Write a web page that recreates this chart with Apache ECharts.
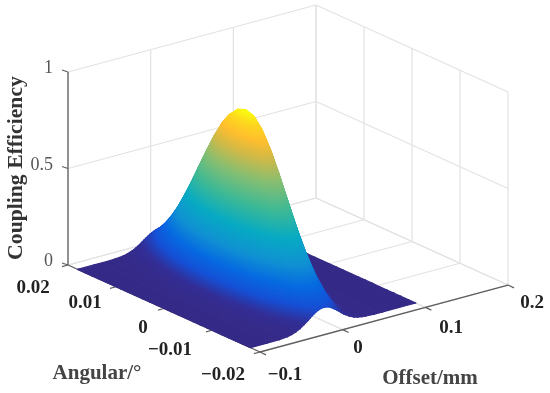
<!DOCTYPE html>
<html><head><meta charset="utf-8"><style>html,body{margin:0;background:#fff}#c{width:550px;height:393px;filter:blur(0.45px)}</style>
<script src="https://cdn.jsdelivr.net/npm/echarts@6/dist/echarts.min.js"></script></head><body><div id="c"></div>
<script>
const offsets=[-0.1,-0.08,-0.065,-0.055,-0.05,-0.045,-0.04,-0.035,-0.03,-0.0275,-0.025,-0.0225,-0.02,-0.0175,-0.015,-0.0125,-0.01,-0.0075,-0.005,-0.0025,0,0.0025,0.005,0.0075,0.01,0.0125,0.015,0.02,0.025,0.03,0.035,0.04,0.05,0.06,0.08,0.1];
const angulars=[-0.018,-0.0165,-0.015,-0.0135,-0.012,-0.0105,-0.009,-0.0075,-0.006,-0.0045,-0.003,-0.0015,0,0.0015,0.003,0.0045,0.006,0.0075,0.009,0.0105,0.012,0.0135,0.015,0.0165,0.018];
// coupling efficiency in thousandths, one row per angular value, one column per offset value
const efficiencyThousandths=[
[0,0,1,5,10,18,29,44,61,70,79,87,94,100,104,106,106,104,101,95,88,80,72,63,54,45,38,24,14,8,4,2,0,0,0,0],
[0,0,2,8,15,26,43,64,89,103,115,127,138,146,152,156,156,153,148,140,130,118,105,92,79,67,55,35,21,12,6,3,1,0,0,0],
[0,0,2,11,21,37,60,91,127,145,163,180,195,207,215,220,221,217,209,198,183,167,149,130,112,94,78,50,30,16,8,4,1,0,0,0],
[0,0,3,15,29,51,82,124,172,198,222,245,266,282,294,300,300,295,285,269,250,227,203,177,152,128,106,68,41,22,11,5,1,0,0,0],
[0,0,4,20,38,66,108,162,226,260,292,322,349,370,386,394,395,388,374,353,328,298,266,233,200,169,139,90,53,30,15,7,1,0,0,0],
[0,0,5,25,48,84,137,206,286,329,370,408,441,469,488,498,499,491,473,447,415,377,337,295,253,213,176,113,68,37,19,9,2,0,0,0],
[0,0,6,31,58,102,167,251,349,401,451,497,538,571,595,608,609,598,577,546,506,460,411,360,309,260,215,138,83,46,23,11,2,0,0,0],
[0,0,8,36,69,120,196,295,411,471,530,584,633,672,699,714,716,703,678,641,595,541,483,423,363,306,253,163,97,54,27,13,2,0,0,0],
[0,0,9,41,78,136,222,334,465,533,600,662,716,761,792,809,811,797,768,726,674,613,547,479,411,346,286,184,110,61,31,15,3,0,0,0],
[0,0,10,45,85,149,242,364,508,582,655,722,782,830,864,883,885,869,838,793,735,669,597,522,449,378,312,201,120,66,34,16,3,0,0,0],
[0,0,10,47,89,157,255,383,534,612,689,760,822,873,909,929,931,915,882,834,773,703,628,550,472,397,328,212,126,70,36,17,3,0,0,0],
[0,0,10,48,90,159,258,388,541,621,698,770,834,885,922,942,943,927,894,845,784,713,636,557,478,403,333,214,128,71,36,17,3,0,0,0],
[0,0,10,47,89,156,254,382,532,610,687,757,820,870,906,926,928,912,879,831,771,701,626,548,470,396,327,211,126,69,35,17,3,0,0,0],
[0,0,10,44,84,148,242,364,508,583,656,724,784,832,867,886,888,873,842,797,740,673,601,526,452,381,315,203,121,67,34,16,3,0,0,0],
[0,0,9,40,77,136,221,335,468,538,606,670,727,773,807,825,829,816,788,747,694,633,566,496,427,360,298,193,115,64,33,16,3,0,0,0],
[0,0,8,35,67,119,195,297,417,480,543,601,654,697,729,748,753,743,719,683,637,582,521,458,395,334,278,180,108,60,31,15,3,0,0,0],
[0,0,7,29,56,100,166,254,359,415,470,523,570,610,640,659,666,659,641,611,571,523,471,415,359,305,254,166,101,56,29,14,3,0,0,0],
[0,0,5,23,45,81,135,209,298,346,394,440,482,518,546,565,573,570,556,532,500,460,416,368,320,273,228,151,92,52,27,13,2,0,0,0],
[0,0,4,18,35,63,106,166,239,279,319,359,395,427,452,470,479,479,470,453,427,396,359,320,280,240,201,134,83,47,25,12,2,0,0,0],
[0,0,3,13,25,47,80,126,185,217,250,282,313,340,363,380,392,392,387,375,356,332,303,272,239,206,174,118,74,43,23,11,2,0,0,0],
[0,0,2,9,18,33,58,93,138,163,189,215,240,263,282,297,307,312,310,302,289,272,250,226,200,174,148,102,64,38,21,10,2,0,0,0],
[0,0,1,6,12,23,40,65,98,117,137,158,178,196,212,226,235,240,241,237,229,216,201,183,163,143,123,86,55,33,18,9,2,0,0,0],
[0,0,1,4,8,15,27,44,68,82,96,112,127,141,154,166,174,180,182,181,176,168,157,145,130,115,100,71,47,28,16,8,2,0,0,0],
[0,0,0,2,5,9,17,29,45,54,65,76,87,98,108,117,125,130,133,133,131,127,120,111,101,91,79,57,39,24,14,7,2,0,0,0],
[0,0,0,1,3,5,10,18,28,35,42,50,58,66,73,80,86,91,94,95,95,93,89,83,77,69,61,45,31,20,12,6,1,0,0,0]
];
const eff=efficiencyThousandths.map(r=>r.map(v=>v/1000));
const offsetTicks=[-0.1,0,0.1,0.2],angularTicks=[0.02,0.01,0,-0.01,-0.02],effTicks=[0,0.5,1];
const P=(o,a,z)=>[260+(o+0.1)*826.7-(a+0.02)*4800,352-(o+0.1)*223.3-(a+0.02)*2175-z*193];
const cmap=[[0,[53,42,135]],[0.05,[50,45,150]],[0.12,[20,80,215]],[0.2,[5,105,225]],[0.3,[16,145,210]],[0.42,[6,170,195]],[0.55,[60,185,150]],[0.68,[130,190,115]],[0.8,[210,185,70]],[0.88,[255,190,45]],[0.95,[253,215,30]],[1,[249,251,14]]];
function col(t){t=Math.max(0,Math.min(1,t));for(let k=1;k<cmap.length;k++){if(t<=cmap[k][0]){const [t0,c0]=cmap[k-1],[t1,c1]=cmap[k];const u=(t-t0)/(t1-t0);return 'rgb('+c0.map((v,m)=>Math.round(v+(c1[m]-v)*u)).join(',')+')';}}return 'rgb(249,251,14)';}
const zMax=Math.max(...eff.map(r=>Math.max(...r)));
const tris=[];
for(let i=offsets.length-2;i>=0;i--)for(let j=angulars.length-2;j>=0;j--){
 const v=(ii,jj)=>[...P(offsets[ii],angulars[jj],eff[jj][ii]),eff[jj][ii]];
 tris.push([v(i+1,j+1),v(i,j+1),v(i+1,j)]);tris.push([v(i,j+1),v(i,j),v(i+1,j)]);
}
function shade(t){
 const vs=t.slice().sort((p,q)=>p[2]-q[2]);const lo=vs[0],hi=vs[2];
 const zr=hi[2]-lo[2];if(zr<0.0005)return col(lo[2]/zMax);
 const [x0,y0,z0]=t[0],[x1,y1,z1]=t[1],[x2,y2,z2]=t[2];
 const det=(x1-x0)*(y2-y0)-(x2-x0)*(y1-y0);if(Math.abs(det)<0.01)return col((lo[2]+hi[2])/2/zMax);
 const a=((z1-z0)*(y2-y0)-(z2-z0)*(y1-y0))/det,b=((x1-x0)*(z2-z0)-(x2-x0)*(z1-z0))/det;
 const g2=a*a+b*b;const ex=lo[0]+a*zr/g2,ey=lo[1]+b*zr/g2;
 const n=Math.max(2,Math.ceil(zr/0.015)),stops=[];
 for(let k=0;k<=n;k++)stops.push({offset:k/n,color:col((lo[2]+zr*k/n)/zMax)});
 return new echarts.graphic.LinearGradient(lo[0],lo[1],ex,ey,stops,true);
}
const GRID='#e2e2e2',AX='#5f5f5f';
const lines=[];
const L=(a,b,c,w)=>lines.push([a,b,c,w]);
const oMin=-0.1,oMax=0.2,aMin=-0.02,aMax=0.02;
effTicks.forEach(z=>{L(P(oMin,aMax,z),P(oMax,aMax,z),GRID,1.2);L(P(oMax,aMax,z),P(oMax,aMin,z),GRID,1.2);});
offsetTicks.forEach(o=>{L(P(o,aMax,0),P(o,aMax,1),GRID,1.2);L(P(o,aMin,0),P(o,aMax,0),GRID,1.2);});
angularTicks.forEach(a=>{L(P(oMax,a,0),P(oMax,a,1),GRID,1.2);L(P(oMin,a,0),P(oMax,a,0),GRID,1.2);});
const front=[];
const F=(a,b)=>front.push([a,b,AX,1.3]);
F(P(oMin,aMin,0),P(oMax,aMin,0));
const backAx=[];
backAx.push([P(oMin,aMax,0),P(oMin,aMax,1),AX,1.3]);backAx.push([P(oMin,aMax,0),P(oMin,aMin,0),AX,1.2]);
effTicks.forEach(z=>{const p=P(oMin,aMax,z);backAx.push([p,[p[0]-6,p[1]-2],AX,1.2]);});
angularTicks.forEach(a=>{const p=P(oMin,a,0);backAx.push([p,[p[0]-6,p[1]+1.6],AX,1.2]);});
offsetTicks.forEach(o=>{const p=P(o,aMin,0);F(p,[p[0]+6,p[1]+2.8]);});
const S='"Liberation Serif"',T='normal 18px '+S,B='bold 19px '+S,N='bold 21px '+S,NV='bold 21.7px '+S;
const texts=[
 ['1',53,68,T,'#555','right',0],['0.5',53,165,T,'#555','right',0],['0',53,261,T,'#555','right',0],
 ['0.02',33,288,B,'#222','center',0],['0.01',85,303,B,'#222','center',0],['0',143,328,B,'#222','center',0],['\u22120.01',170,350,B,'#222','center',0],['\u22120.02',223,375,B,'#222','center',0],
 ['\u22120.1',285,375,B,'#222','center',0],['0',358,348,B,'#222','center',0],['0.1',451,328,B,'#222','center',0],['0.2',532,303,B,'#222','center',0],
 ['Angular/\u00b0',97,374,N,'#444','center',0],['Offset/mm',430,379,N,'#444','center',0],['Coupling Efficiency',16,168,NV,'#333','center',Math.PI/2]
];
const lineSeries=(arr,z)=>({type:'custom',coordinateSystem:'none',silent:true,z,animation:false,data:arr.map((_,i)=>[i]),renderItem:(p)=>{const l=arr[p.dataIndex];return{type:'line',shape:{x1:l[0][0],y1:l[0][1],x2:l[1][0],y2:l[1][1]},style:{stroke:l[2],lineWidth:l[3]}};}});
const chart=echarts.init(document.getElementById('c'),null,{width:550,height:393});
chart.setOption({animation:false,backgroundColor:'#fff',series:[
 lineSeries(lines,1),lineSeries(backAx,2),
 {type:'custom',coordinateSystem:'none',silent:true,z:3,animation:false,data:tris.map((_,i)=>[i]),renderItem:(p)=>{const t=tris[p.dataIndex],s=shade(t);return{type:'polygon',shape:{points:t.map(v=>[v[0],v[1]])},style:{fill:s,stroke:s,lineWidth:1.2,lineJoin:'round'}};}},
 lineSeries(front,4),
 {type:'custom',coordinateSystem:'none',silent:true,z:5,animation:false,data:texts.map((_,i)=>[i]),renderItem:(p)=>{const t=texts[p.dataIndex];return{type:'text',x:t[1],y:t[2],rotation:t[6],style:{text:t[0],font:t[3],fill:t[4],align:t[5],verticalAlign:'middle'}};}}
]});
</script></body></html>
